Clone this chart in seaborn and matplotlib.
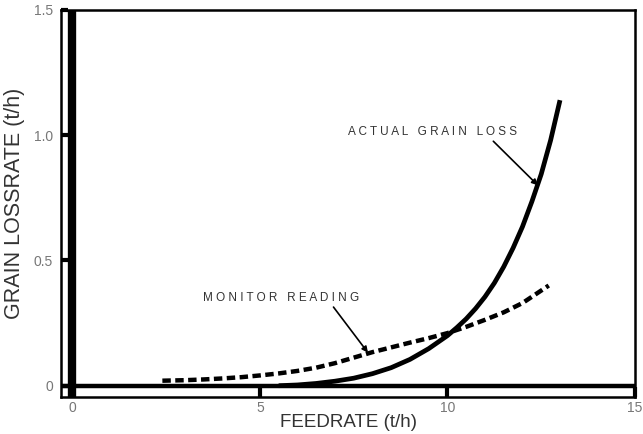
import numpy as np
import pandas as pd
import seaborn as sns
import matplotlib
matplotlib.use("Agg")
import matplotlib.pyplot as plt

# values
actual_x = [5.5, 6.0, 6.5, 7.0, 7.5, 8.0, 8.5, 9.0, 9.5, 10.0, 10.25, 10.5, 10.75,
            11.0, 11.25, 11.5, 11.75, 12.0, 12.25, 12.5, 12.75, 13.0]
actual_y = [0.0, 0.003, 0.009, 0.018, 0.03, 0.048, 0.072, 0.105, 0.148, 0.20, 0.232,
            0.267, 0.308, 0.355, 0.41, 0.475, 0.55, 0.635, 0.735, 0.845, 0.98, 1.14]

monitor_x = [2.4, 3.0, 3.5, 4.0, 4.5, 5.0, 5.5, 6.0, 6.5, 7.0, 7.5, 8.0, 8.5, 9.0,
             9.5, 10.0, 10.5, 11.0, 11.5, 12.0, 12.7]
monitor_y = [0.02, 0.022, 0.025, 0.029, 0.034, 0.041, 0.049, 0.059, 0.072, 0.09,
             0.112, 0.134, 0.153, 0.172, 0.19, 0.21, 0.235, 0.263, 0.293, 0.33, 0.40]

x_ticks = [0, 5, 10, 15]
y_ticks = [0, 0.5, 1.0, 1.5]
y_tick_labels = ["0", "0.5", "1.0", "1.5"]

sns.set_style("white", {"xtick.bottom": True, "ytick.left": True,
                        "axes.axisbelow": False})
plt.rcParams['font.family'] = ['Liberation Sans', 'DejaVu Sans']

fig = plt.figure(figsize=(6.43, 4.34), dpi=100)
ax = fig.add_axes([0.095, 0.0853, 0.8926, 0.8917])

df_actual = pd.DataFrame({'x': actual_x, 'y': actual_y})
df_monitor = pd.DataFrame({'x': monitor_x, 'y': monitor_y})

# heavy axis lines at zero
ax.axhline(0, color='black', lw=3.2, zorder=1, solid_capstyle='butt')
ax.axvline(0, color='black', lw=6, zorder=1, solid_capstyle='butt')

sns.lineplot(data=df_actual, x='x', y='y', ax=ax, color='black', lw=3.4,
             estimator=None, sort=False)
ax.lines[-1].set_solid_capstyle('butt')
sns.lineplot(data=df_monitor, x='x', y='y', ax=ax, color='black', lw=3.2,
             estimator=None, sort=False)
ax.lines[-1].set_linestyle((0, (1.9, 1.0)))

ax.set_xlim(-0.3, 15.0)
ax.set_ylim(-0.045, 1.5)
ax.set_xticks(x_ticks)
ax.set_yticks(y_ticks)
ax.set_yticklabels(y_tick_labels)
ax.tick_params(axis='x', bottom=True, direction='in', length=7, width=3,
               color='black', labelcolor='#777777', labelsize=10, pad=3)
ax.tick_params(axis='y', left=True, direction='in', length=5, width=3,
               color='black', labelcolor='#777777', labelsize=10, pad=6)
ax.xaxis.set_zorder(3)
ax.yaxis.set_zorder(3)
for s in ax.spines.values():
    s.set_color('black')
    s.set_linewidth(1.8)

ax.set_xlabel("FEEDRATE (t/h)", fontsize=13.5, color='#333333', labelpad=-1)
ax.set_ylabel("GRAIN LOSSRATE (t/h)", fontsize=15.5, color='#333333', labelpad=6)

ax.annotate("A C T U A L   G R A I N   L O S S", xy=(12.41, 0.80), xytext=(7.35, 1.013),
            fontsize=8.5, color='#333333', va='center', ha='left',
            arrowprops=dict(arrowstyle='-|>', color='black', lw=1.2,
                            shrinkA=0, shrinkB=0, relpos=(0.84, 0.0)))
ax.annotate("M O N I T O R   R E A D I N G", xy=(7.88, 0.132), xytext=(3.48, 0.351),
            fontsize=8.5, color='#333333', va='center', ha='left',
            arrowprops=dict(arrowstyle='-|>', color='black', lw=1.2,
                            shrinkA=0, shrinkB=0, relpos=(0.82, 0.0)))

fig.savefig("out.png", dpi=100)
